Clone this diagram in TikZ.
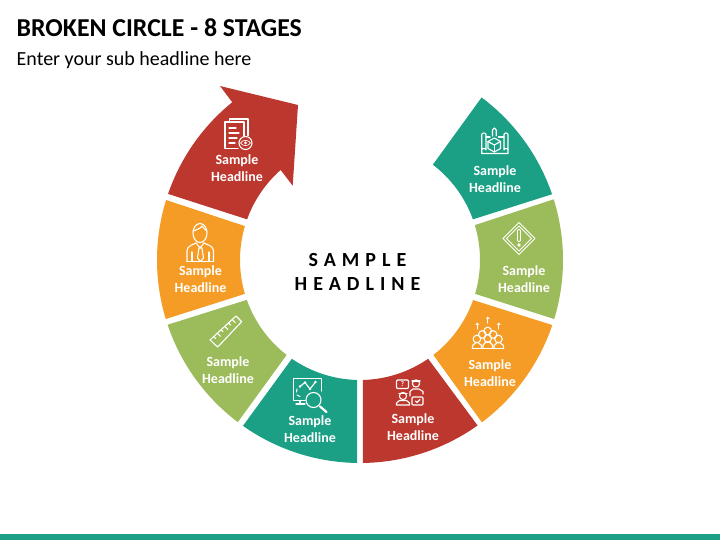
\documentclass[tikz,border=0pt]{standalone}
\usepackage{fontspec}
\setmainfont{Carlito}
\newfontfamily\spacedfont[LetterSpace=30]{Carlito}
\definecolor{tealpart}{HTML}{1BA085}
\definecolor{redpart}{HTML}{BC372D}
\definecolor{orangepart}{HTML}{F49C25}
\definecolor{greenpart}{HTML}{9CBB5B}
\newcommand{\ringpart}[5]{
    \fill [#1] (#2:203) arc[start angle=#2, end angle=#3, radius=203] --
    (#4:120) arc[start angle=#4, end angle=#5, radius=120] -- cycle;
}
\tikzset{
    partlabel/.style = {text = white, font = \fontsize{14}{17}\selectfont\bfseries, align = center, inner sep = 0pt},
    iconline/.style = {draw = white, line width = 1.1pt, line join = round, line cap = round},
    iconfill/.style = {fill = white, draw = none}
}
\begin{document}
\begin{tikzpicture}[x = 1pt, y = 1pt]
            \useasboundingbox (0,0) rectangle (720,540);
            \fill [tealpart] (0,0) rectangle (720,6);

            \begin{scope}[shift = {(360,280)}]
            \ringpart{tealpart}{53.2}{18.9}{19.8}{52.6}
            \ringpart{greenpart}{17.4}{-16.9}{-16.4}{16.9}
            \ringpart{orangepart}{-18.7}{-53.1}{-52.3}{-19.5}
            \ringpart{redpart}{-54.6}{-89.2}{-88.6}{-55.4}
            \ringpart{tealpart}{269.2}{234.8}{235.4}{268.6}
            \ringpart{greenpart}{233}{198.6}{199.4}{232.3}
            \ringpart{orangepart}{196.9}{162.8}{163.6}{196.4}

            \fill [redpart] (161:203) arc[start angle=161, end angle=129, radius=203] --
            (-140,174) --
            (-62,155) --
            (-67.3,74.3) --
            (131.4:120) arc[start angle=131.4, end angle=160.2, radius=120] -- cycle;
            \end{scope}

            \begin{scope}[shift = {(0,540)}, yscale = -1]
            \node [anchor = base west, inner sep = 0pt, font = \fontsize{25.8}{30}\selectfont\bfseries] (title) at (16.5,37) {BROKEN CIRCLE - 8 STAGES};
            \node [anchor = base west, inner sep = 0pt, font = \fontsize{20}{24}\selectfont] (subtitle) at (16.5,65.5) {Enter your sub headline here};

            \node [font = \fontsize{20}{24}\selectfont\bfseries\spacedfont, inner sep = 0pt] (centerone) at (357.5,260.5) {SAMPLE};
            \node [font = \fontsize{20}{24}\selectfont\bfseries\spacedfont, inner sep = 0pt] (centertwo) at (357.5,284.5) {HEADLINE};

            \node [partlabel] (labelarrow) at (237,168.5) {Sample\\Headline};
            \node [partlabel] (labelperson) at (200.5,279.5) {Sample\\Headline};
            \node [partlabel] (labelruler) at (228,370) {Sample\\Headline};
            \node [partlabel] (labelscreen) at (310,429) {Sample\\Headline};
            \node [partlabel] (labelpeople) at (413,427.5) {Sample\\Headline};
            \node [partlabel] (labelcrowd) at (490,373) {Sample\\Headline};
            \node [partlabel] (labelwarning) at (524,279) {Sample\\Headline};
            \node [partlabel] (labelplan) at (495,179) {Sample\\Headline};

            \draw [iconline]
            (238,148.5) -- (225,148.5) -- (225,122) -- (244,122) -- (244,136);
            \draw [iconline]
            (229.5,122) -- (229.5,119) -- (248,119) -- (248,135.5);
            \draw [iconline] (229,128) -- (236,128);
            \draw [iconline] (229,133) -- (239,133);
            \draw [iconline] (229,138) -- (237,138);
            \draw [iconline] (229,143) -- (235,143);
            \draw [iconline] (245.5,143) circle(6.5);
            \draw [iconline, line width = 0.7pt]
            (240.5,143) .. controls (243,139.5) and (248,139.5) .. (250.5,143) .. controls (248,146.5) and (243,146.5) .. (240.5,143) -- cycle;
            \fill [iconfill] (245.5,143) circle(1.5);

            \draw [iconline] (200,233) ellipse(7 and 9.5);
            \draw [iconline]
            (193,231) .. controls (196,230) and (200,229) .. (202,226) .. controls (204,229) and (206,230) .. (207,231);
            \draw [iconline]
            (187,261.5) -- (187,251) .. controls (187,246) and (192,245) .. (196,243);
            \draw [iconline]
            (213.5,261.5) -- (213.5,251) .. controls (213.5,246) and (208,245) .. (204,243);
            \draw [iconline] (187,261.5) -- (213.5,261.5);
            \draw [iconline] (192,252) -- (192,261.5);
            \draw [iconline] (209,252) -- (209,261.5);
            \draw [iconline]
            (196,243) -- (200,248) -- (204,243);
            \draw [iconline]
            (199,248) -- (197.5,258) -- (200.5,261.5) -- (203.5,258) -- (202,248) -- cycle;

            \draw [iconline]
            (210,340) -- (236,316) -- (241.7,321.7) -- (217.7,347) -- cycle;
            \draw [iconline] (213.7,336.6) -- ++(2,2);
            \draw [iconline] (217.4,333.2) -- ++(3,3);
            \draw [iconline] (221.1,329.8) -- ++(2,2);
            \draw [iconline] (224.8,326.4) -- ++(3,3);
            \draw [iconline] (228.5,323) -- ++(2,2);
            \draw [iconline] (232.2,319.6) -- ++(3,3);

            \draw [iconline]
            (305,400.5) -- (293.5,400.5) -- (293.5,378.5) -- (321.5,378.5) -- (321.5,391);
            \draw [iconline] (300,400.5) -- (300,404);
            \draw [iconline] (296,404) -- (305,404);
            \draw [iconline]
            (300,386.5) -- (305,382.5) -- (310,389) -- (315.5,382);
            \fill [iconfill] (300,386.5) circle(1.3);
            \fill [iconfill] (305,382.5) circle(1.3);
            \fill [iconfill] (310,389) circle(1.3);
            \fill [iconfill] (315.5,382) circle(1.3);
            \draw [iconline] (297,389) -- (296.5,392);
            \draw [iconline] (297,395) -- (300,396.5);
            \draw [iconline] (313.5,400) circle(7.5);
            \draw [iconline, line width = 2.2pt] (320,406.5) -- (326.5,412);

            \draw [iconline, rounded corners = 1pt]
            (396.5,380) rectangle (408.5,388.5);
            \node [text = white, font = \fontsize{7}{8}\selectfont\bfseries, inner sep = 0pt] (questionmark) at (402.5,384.2) {?};
            \draw [iconline] (416,383.5) circle(3.6);
            \draw [iconline] (412,381) -- (420,381);
            \draw [iconline]
            (410,396) -- (410,391.5) -- (413,389) -- (419,389) -- (423,391.5) -- (423,394);
            \draw [iconline] (403,396) circle(3.6);
            \draw [iconline] (399,393.5) -- (407,393.5);
            \draw [iconline]
            (396.5,405) -- (396.5,403) -- (399.5,400.5) -- (406.5,400.5) -- (409.5,403) -- (409.5,405) -- cycle;
            \draw [iconline, rounded corners = 1pt]
            (412,397) rectangle (423,405);
            \draw [iconline]
            (415.5,401) -- (417,402.5) -- (420,399.5);

            \draw [iconline] (477.3,329) -- (477.3,324);
            \fill [iconfill] (477.3,322.5) -- (475.3,325) -- (479.3,325) -- cycle;
            \draw [iconline] (487.7,323) -- (487.7,318);
            \fill [iconfill] (487.7,316.5) -- (485.7,319) -- (489.7,319) -- cycle;
            \draw [iconline] (498.7,329) -- (498.7,324);
            \fill [iconfill] (498.7,322.5) -- (496.7,325) -- (500.7,325) -- cycle;
            \draw [iconline] (487.7,331) circle(3.8);
            \draw [iconline] (482.3,334.5) circle(3.8);
            \draw [iconline] (493.1,334.5) circle(3.8);
            \draw [iconline] (476.9,339) circle(3.8);
            \draw [iconline] (487.7,338.5) circle(3.8);
            \draw [iconline] (498.5,339) circle(3.8);
            \draw [iconline]
            (472.5,348.5) -- (472.5,345.5) -- (476,342.5) -- (478,342.5) -- (481.5,345.5) -- (481.5,348.5);
            \draw [iconline]
            (483,348.5) -- (483,345) -- (486,342) -- (489.5,342) -- (492.5,345) -- (492.5,348.5);
            \draw [iconline]
            (494,348.5) -- (494,345.5) -- (497.5,342.5) -- (499.5,342.5) -- (503.5,345.5) -- (503.5,348.5);
            \draw [iconline] (472.5,348.5) -- (503.5,348.5);

            \draw [iconline, line width = 0.9pt]
            (519,222.5) -- (535,238.5) -- (519,254.5) -- (503,238.5) -- cycle;
            \draw [iconline, line width = 0.9pt]
            (519,226) -- (531.5,238.5) -- (519,251) -- (506.5,238.5) -- cycle;
            \draw [iconline, line width = 0.9pt, rounded corners = 1pt]
            (517.5,229.5) rectangle (520.5,241.5);
            \fill [iconfill] (519,245) circle(1.8);

            \draw [iconline]
            (486,137) -- (490,137);
            \draw [iconline]
            (498.5,137) -- (504,137);
            \draw [iconline]
            (481.7,150) -- (481.7,134.5) .. controls (481.7,132.5) and (486,132.5) .. (486,134.5) -- (486,150) .. controls (486,148) and (481.7,148) .. (481.7,150) -- (481.7,153.5) -- (508,153.5) -- (508,134.5) .. controls (508,132.5) and (504,132.5) .. (504,134.5) -- (504,150) .. controls (504,148) and (508,148) .. (508,150);
            \draw [iconline]
            (492.5,136) -- (492.5,130) -- (494.3,128) -- (496.2,130) -- (496.2,136);
            \draw [iconline]
            (494.3,138) -- (500.5,141.5) -- (500.5,148.5) -- (494.3,152) -- (488,148.5) -- (488,141.5) -- cycle;
            \draw [iconline]
            (488,141.5) -- (494.3,145) -- (500.5,141.5);
            \draw [iconline] (494.3,145) -- (494.3,152);
            \end{scope}
        \end{tikzpicture}
\end{document}
